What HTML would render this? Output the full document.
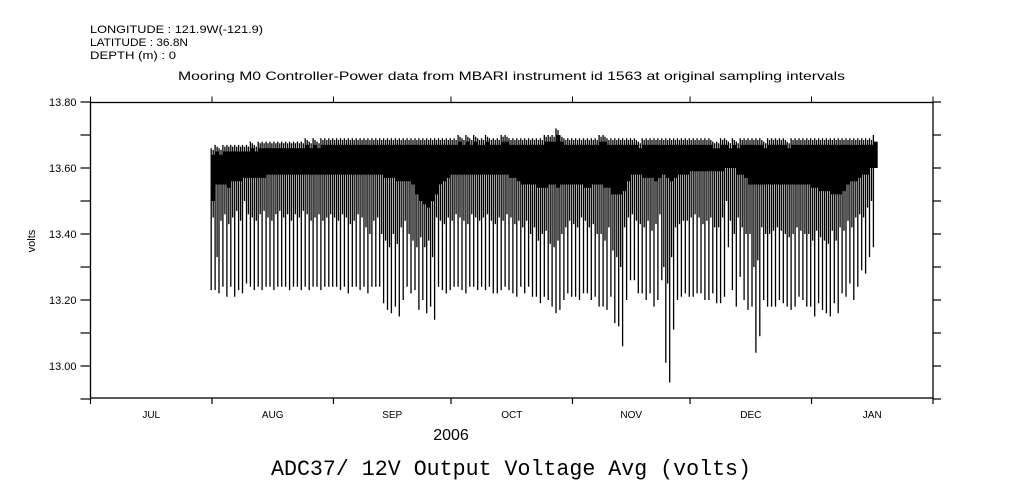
<!DOCTYPE html>
<html><head><meta charset="utf-8"><style>
body{margin:0;background:#fff;}
svg{display:block;font-family:"Liberation Sans",sans-serif;}
</style></head><body>
<svg id="chart" width="1009" height="504" viewBox="0 0 1009 504" xmlns="http://www.w3.org/2000/svg">
<rect width="1009" height="504" fill="#fff"/>
<g font-size="11" fill="#000">
<text x="90" y="33" textLength="173" lengthAdjust="spacingAndGlyphs">LONGITUDE : 121.9W(-121.9)</text>
<text x="90" y="46" textLength="98" lengthAdjust="spacingAndGlyphs">LATITUDE : 36.8N</text>
<text x="90" y="59" textLength="86" lengthAdjust="spacingAndGlyphs">DEPTH (m) : 0</text>
</g>
<text x="178" y="80" font-size="12" textLength="667" lengthAdjust="spacingAndGlyphs">Mooring M0 Controller-Power data from MBARI instrument id 1563 at original sampling intervals</text>
<text transform="translate(35,241) rotate(-90)" font-size="11" text-anchor="middle">volts</text>
<text x="451" y="440" font-size="16" text-anchor="middle">2006</text>
<text x="271" y="475" font-size="22" textLength="480" lengthAdjust="spacingAndGlyphs" font-family="'Liberation Mono',monospace">ADC37/ 12V Output Voltage Avg (volts)</text>
<g id="plot"></g>
<rect x="90.5" y="102.5" width="842.5" height="295.5" fill="none" stroke="#000" stroke-width="1.3"/>
</svg>
<script>
const yTicks=[12.9,13.0,13.1,13.2,13.3,13.4,13.5,13.6,13.7,13.8];
const yLabels=["13.00","13.20","13.40","13.60","13.80"];
const months=["JUL","AUG","SEP","OCT","NOV","DEC","JAN"];
const monthDays=[31,31,30,31,30,31,31];
const dailyMin=[
13.23,13.23,13.22,13.24,13.21,13.24,13.21,13.23,13.22,13.25,13.24,13.23,13.24,13.23,13.24,13.24,13.23,13.24,13.24,13.24,13.23,13.24,13.24,13.23,13.24,13.23,13.24,13.24,13.23,13.24,13.24,
13.24,13.24,13.23,13.24,13.22,13.24,13.24,13.23,13.24,13.22,13.24,13.24,13.24,13.19,13.17,13.16,13.18,13.15,13.20,13.24,13.22,13.23,13.17,13.20,13.16,13.18,13.14,13.24,13.23,13.22,
13.23,13.24,13.24,13.23,13.22,13.24,13.24,13.23,13.24,13.23,13.24,13.22,13.22,13.23,13.24,13.23,13.22,13.21,13.24,13.22,13.24,13.21,13.21,13.19,13.21,13.20,13.18,13.16,13.17,13.20,13.22,
13.21,13.21,13.20,13.22,13.22,13.20,13.21,13.18,13.18,13.17,13.21,13.13,13.12,13.06,13.20,13.26,13.26,13.22,13.22,13.20,13.22,13.18,13.20,13.26,13.01,12.95,13.11,13.20,13.21,13.22,
13.21,13.21,13.22,13.22,13.20,13.20,13.22,13.19,13.19,13.21,13.36,13.23,13.18,13.27,13.20,13.17,13.18,13.04,13.09,13.20,13.18,13.18,13.18,13.20,13.19,13.18,13.17,13.18,13.21,13.20,13.18,
13.18,13.15,13.19,13.17,13.16,13.15,13.19,13.16,13.22,13.21,13.25,13.20,13.24,13.29,13.28,13.33,13.36];
const dailyDip=[
13.45,13.33,13.44,13.46,13.43,13.45,13.47,13.44,13.50,13.46,13.45,13.44,13.46,13.47,13.45,13.44,13.46,13.47,13.45,13.46,13.44,13.46,13.45,13.47,13.46,13.44,13.45,13.46,13.44,13.45,13.46,
13.45,13.44,13.46,13.45,13.43,13.44,13.46,13.45,13.42,13.40,13.44,13.45,13.40,13.38,13.36,13.40,13.37,13.42,13.44,13.40,13.38,13.36,13.39,13.36,13.38,13.33,13.45,13.44,13.43,
13.45,13.44,13.46,13.45,13.44,13.43,13.46,13.45,13.44,13.45,13.46,13.44,13.43,13.45,13.44,13.46,13.45,13.43,13.44,13.42,13.44,13.40,13.42,13.38,13.40,13.41,13.37,13.36,13.38,13.40,13.42,
13.44,13.43,13.42,13.45,13.44,13.42,13.43,13.40,13.40,13.38,13.42,13.35,13.33,13.30,13.42,13.45,13.46,13.44,13.43,13.42,13.44,13.41,13.43,13.46,13.30,13.25,13.33,13.42,13.43,13.44,
13.44,13.45,13.46,13.45,13.43,13.44,13.45,13.42,13.42,13.45,13.50,13.44,13.40,13.45,13.42,13.40,13.40,13.30,13.32,13.42,13.40,13.40,13.41,13.42,13.41,13.40,13.39,13.40,13.42,13.41,13.40,
13.40,13.38,13.41,13.39,13.38,13.37,13.41,13.38,13.42,13.41,13.44,13.42,13.45,13.46,13.45,13.48,13.50];
const bandLow=[
13.50,13.55,13.55,13.55,13.54,13.56,13.56,13.56,13.57,13.57,13.57,13.57,13.57,13.57,13.58,13.58,13.58,13.58,13.58,13.58,13.58,13.58,13.58,13.58,13.58,13.58,13.58,13.58,13.58,13.58,13.58,
13.58,13.58,13.58,13.58,13.58,13.58,13.58,13.58,13.58,13.58,13.58,13.58,13.58,13.57,13.57,13.57,13.56,13.56,13.56,13.56,13.55,13.52,13.50,13.49,13.48,13.50,13.52,13.55,13.56,13.57,
13.58,13.58,13.58,13.58,13.58,13.58,13.58,13.58,13.58,13.58,13.58,13.58,13.58,13.58,13.58,13.57,13.57,13.56,13.55,13.55,13.55,13.55,13.54,13.54,13.54,13.55,13.55,13.54,13.55,13.55,13.55,
13.55,13.55,13.55,13.54,13.54,13.55,13.55,13.55,13.54,13.54,13.52,13.52,13.52,13.53,13.56,13.58,13.58,13.58,13.57,13.57,13.57,13.56,13.57,13.58,13.57,13.56,13.57,13.58,13.58,13.58,
13.59,13.59,13.59,13.59,13.59,13.59,13.59,13.59,13.59,13.60,13.60,13.60,13.58,13.58,13.57,13.55,13.55,13.55,13.55,13.55,13.55,13.55,13.55,13.55,13.55,13.55,13.55,13.55,13.55,13.55,13.55,
13.54,13.54,13.53,13.53,13.53,13.52,13.52,13.52,13.53,13.55,13.56,13.56,13.57,13.58,13.58,13.60,13.60];
const dailyMax=[
13.66,13.67,13.66,13.67,13.67,13.67,13.67,13.67,13.67,13.67,13.68,13.67,13.68,13.68,13.68,13.68,13.68,13.68,13.68,13.68,13.68,13.68,13.68,13.68,13.69,13.68,13.69,13.68,13.69,13.69,13.69,
13.69,13.69,13.69,13.69,13.69,13.69,13.69,13.69,13.69,13.69,13.69,13.69,13.69,13.69,13.69,13.69,13.69,13.69,13.69,13.69,13.69,13.69,13.69,13.69,13.69,13.69,13.69,13.69,13.69,13.69,
13.69,13.69,13.70,13.69,13.70,13.69,13.70,13.69,13.69,13.70,13.69,13.69,13.69,13.70,13.70,13.69,13.69,13.69,13.69,13.69,13.69,13.69,13.69,13.69,13.70,13.70,13.70,13.72,13.70,13.69,13.69,
13.69,13.69,13.69,13.69,13.69,13.69,13.69,13.70,13.70,13.69,13.69,13.69,13.69,13.69,13.69,13.69,13.69,13.68,13.69,13.69,13.69,13.69,13.69,13.69,13.69,13.69,13.69,13.69,13.69,13.69,
13.69,13.69,13.69,13.69,13.69,13.69,13.68,13.68,13.69,13.69,13.68,13.69,13.68,13.69,13.69,13.69,13.69,13.69,13.69,13.68,13.69,13.69,13.69,13.69,13.69,13.68,13.69,13.69,13.69,13.69,13.69,
13.69,13.69,13.69,13.69,13.69,13.69,13.69,13.69,13.69,13.69,13.69,13.69,13.69,13.69,13.69,13.69,13.70];
const startDay=31; // Aug 1 as day index from Jul 1
const NS="http://www.w3.org/2000/svg";
const x0=90.5,x1=933,y0=398,yTop=102.5;
const totalDays=monthDays.reduce((a,b)=>a+b,0);
function xs(d){return x0+(x1-x0)*d/totalDays;}
function ys(v){return 366-(v-13.0)*330;}
const g=document.getElementById('plot');
function mk(tag,attrs){const e=document.createElementNS(NS,tag);for(const k in attrs)e.setAttribute(k,attrs[k]);g.appendChild(e);return e;}
yTicks.forEach(v=>{
 const y=ys(v);
 const t=mk('line',{x1:x0-10,x2:x0,y1:y,y2:y,stroke:'#000','stroke-width':1.2});
 
 
 const r=mk('line',{x1:x1,x2:x1+8,y1:y,y2:y,stroke:'#000','stroke-width':1.2});
 
 
});
yLabels.forEach(l=>{
 const t=mk('text',{x:x0-14,y:ys(parseFloat(l))+4,'font-size':11,'text-anchor':'end'});
 t.textContent=l;
 
 
});
let cum=0;
for(let i=0;i<=monthDays.length;i++){
 const x=xs(cum);
 const t=mk('line',{x1:x,x2:x,y1:y0,y2:y0+6,stroke:'#000','stroke-width':1.2});
 
 
 const tt=mk('line',{x1:x,x2:x,y1:yTop-6,y2:yTop,stroke:'#000','stroke-width':1});
 
 
 if(i<months.length){
  const lb=mk('text',{x:xs(cum+monthDays[i]/2),y:418,'font-size':10,'text-anchor':'middle'});
  lb.textContent=months[i];
  
  
 }
 if(i<monthDays.length)cum+=monthDays[i];
}
let p='';
const w=(x1-x0)/totalDays;
for(let i=0;i<dailyMin.length;i++){
 const d=startDay+i-0.2;
 const xa=xs(d), xm=xa+w*0.5;
 p+=`M${xa.toFixed(1)},${ys(dailyMax[i]).toFixed(1)}V${ys(dailyMin[i]).toFixed(1)}`;
 p+=`M${xm.toFixed(1)},${ys(dailyMax[i]-0.005).toFixed(1)}V${ys(dailyDip[i]).toFixed(1)}`;
}
const path=mk('path',{d:p,stroke:'#000','stroke-width':1.3,fill:'none'});


let b='';
for(let i=0;i<bandLow.length;i++){
 const xa=xs(startDay+i-0.2);
 b+=`M${xa.toFixed(1)},${ys(dailyMax[i]-0.02).toFixed(1)}H${(xa+w+0.3).toFixed(1)}V${ys(bandLow[i]).toFixed(1)}H${xa.toFixed(1)}Z`;
}
const band=mk('path',{d:b,fill:'#000',stroke:'none'});


</script>
</body></html>
